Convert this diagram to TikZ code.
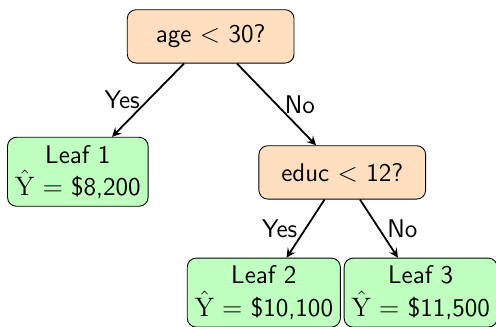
\documentclass[tikz,border=0pt]{standalone}
\usepackage{amsmath}
\usepackage{graphicx,xcolor}
\usepackage{tikz}
\usepackage{amsmath,amssymb,amsfonts}

\begin{document}
\begin{tikzpicture}[font=\sffamily\fontsize{11.5}{14.4}\selectfont,
  split/.style={draw,rounded corners=4pt,fill=orange!25,minimum width=75pt,minimum height=24pt},
  leaf/.style={draw,rounded corners=4pt,fill=green!25,align=center,inner xsep=3.3pt,minimum height=31pt},
  branch/.style={-stealth,thick}]
\useasboundingbox (0,0) rectangle (7.84,5.155);
\node[split] (age) at (3.33,4.58) {age $<$ 30?};
\node[leaf] (leafa) at (1.23,2.44) {Leaf 1\\ $\hat{\mathrm{Y}}=$ \$8,200};
\node[split] (educ) at (5.41,2.43) {educ $<$ 12?};
\node[leaf] (leafb) at (4.17,0.53) {Leaf 2\\ $\hat{\mathrm{Y}}=$ \$10,100};
\node[leaf] (leafc) at (6.65,0.53) {Leaf 3\\ $\hat{\mathrm{Y}}=$ \$11,500};
\draw[branch] (age) -- node[left] {Yes} (leafa);
\draw[branch] (age) -- node[right] {No} (educ);
\draw[branch] (educ) -- node[left] {Yes} (leafb);
\draw[branch] (educ) -- node[right] {No} (leafc);
\end{tikzpicture}
\end{document}
